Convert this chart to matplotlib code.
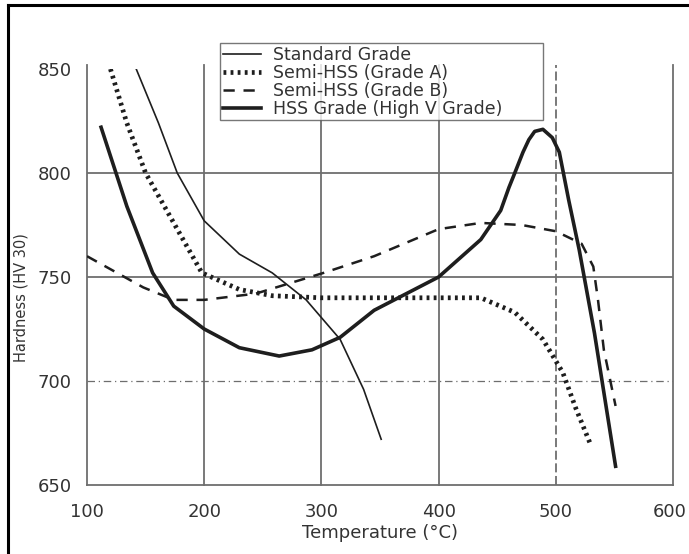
import matplotlib.pyplot as plt
from matplotlib.lines import Line2D
from matplotlib.transforms import ScaledTranslation

# values
std_temp = [142, 161, 177, 200, 230, 258, 287, 316, 336, 351]
std_hv = [850, 824, 800, 777, 761, 752, 739, 720, 696, 672]

gradeA_temp = [120, 134, 150, 174, 198, 230, 258, 300, 350, 400, 436, 465, 489, 506, 517, 530]
gradeA_hv = [850, 824, 800, 776, 752, 744, 741, 740, 740, 740, 740, 733, 720, 704, 687, 669]

gradeB_temp = [100, 148, 174, 200, 244, 273, 302, 345, 400, 436, 471, 500, 522, 532, 536, 541, 551]
gradeB_hv = [760, 745, 739, 739, 742, 747, 752, 760, 773, 776, 775, 772, 766, 755, 739, 715, 688]

hss_temp = [112, 134, 156, 174, 200, 230, 264, 292, 316, 345, 400, 436, 453, 460, 465, 472,
            477, 482, 489, 497, 503, 511, 520, 533, 551]
hss_hv = [822, 784, 752, 736, 725, 716, 712, 715, 721, 734, 750, 768, 782, 793, 800, 810,
          816, 820, 821, 817, 810, 787, 763, 723, 659]

labels = ["Standard Grade", "Semi-HSS (Grade A)", "Semi-HSS (Grade B)", "HSS Grade (High V Grade)"]
x_ticks = [100, 200, 300, 400, 500, 600]
y_ticks = [650, 700, 750, 800, 850]

grid_col = "#6e6e6e"
ink = "#1e1e1e"

fig = plt.figure(figsize=(6.89, 5.54), dpi=100)
ax = fig.add_axes([87 / 689, 1 - 485 / 554, 586 / 689, 416 / 554])

# grid, drawn by hand because the styles differ per line
for y, ls in [(800, "-"), (750, "-"), (700, (0, (6, 3, 1, 3)))]:
    ax.axhline(y, color=grid_col, lw=1.3 if ls == "-" else 0.9, ls=ls, zorder=1)
for x, ls in [(200, "-"), (300, "-"), (400, "-"), (500, (0, (5, 2)))]:
    ax.plot([x, x], [650, 852], color=grid_col, lw=1.3, ls=ls, zorder=1, clip_on=False)

ax.plot(std_temp, std_hv, color=ink, lw=1.2, label=labels[0], zorder=3)
ax.plot(gradeA_temp, gradeA_hv, color=ink, lw=3.4, ls=(0, (0.6, 0.9)),
        dash_capstyle="butt", label=labels[1], zorder=3)
ax.plot(gradeB_temp, gradeB_hv, color=ink, lw=1.8, ls=(0, (4.5, 3.5)), label=labels[2], zorder=3)
ax.plot(hss_temp, hss_hv, color=ink, lw=2.6, label=labels[3], zorder=3)

ax.set_xlim(100, 600)
ax.set_ylim(650, 850)
ax.set_xticks(x_ticks)
ax.set_yticks(y_ticks)
ax.tick_params(length=0, labelsize=13, colors="#333333")
ax.tick_params(axis="x", pad=13)
ax.tick_params(axis="y", pad=11)
# last label sits at the image edge in the scan, nudge it so it still fits
last = ax.get_xticklabels()[-1]
last.set_horizontalalignment("right")
last.set_transform(last.get_transform() + ScaledTranslation(14 / 100, 0, fig.dpi_scale_trans))

ax.spines["top"].set_visible(False)
for s in ["left", "bottom", "right"]:
    ax.spines[s].set_color(grid_col)
    ax.spines[s].set_linewidth(1.3)
ax.spines["left"].set_bounds(650, 852)
ax.spines["right"].set_bounds(650, 852)

ax.set_xlabel("Temperature (°C)", fontsize=13, color="#333333", labelpad=2)
ax.set_ylabel("Hardness (HV 30)", fontsize=10.5, color="#333333")
ax.yaxis.set_label_coords(-0.099, 0.45)

leg = fig.legend(loc="upper left",
                 bbox_to_anchor=(220 / 689, 1 - 120 / 554, 323 / 689, 77 / 554),
                 mode="expand", fontsize=12.5, frameon=True, fancybox=False,
                 handlelength=2.2, handletextpad=0.7, labelspacing=0.0,
                 borderpad=0.15, borderaxespad=0, labelcolor="#333333")
leg.get_frame().set_edgecolor("#555555")
leg.get_frame().set_linewidth(1.0)

# scan border on top and left
fig.add_artist(Line2D([8 / 689, 1], [1 - 5 / 554, 1 - 5 / 554], color="black", lw=2.2))
fig.add_artist(Line2D([8 / 689, 8 / 689], [0, 1 - 5 / 554], color="black", lw=2.2))

fig.savefig("out.png", dpi=100)
